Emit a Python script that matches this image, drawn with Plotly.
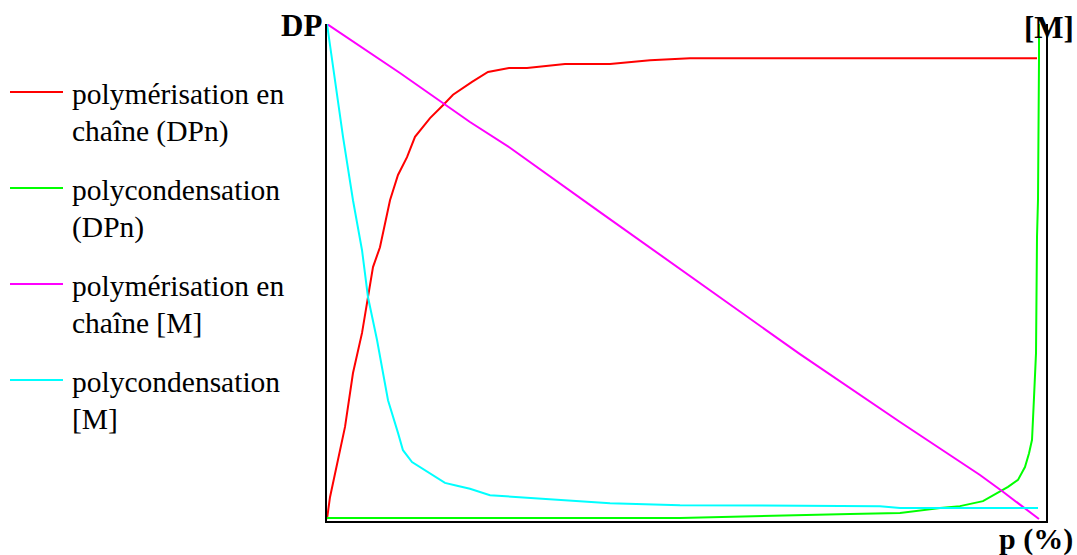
import plotly.graph_objects as go

# ---------------- data (p in %, DP / [M] normalised 0..1) ----------------
red_p = [0, 0.42, 2.53, 3.65, 4.92, 5.76, 6.46, 7.44, 8.85, 9.97, 11.24, 12.36,
         14.47, 16.29, 17.70, 20.37, 22.61, 25.56, 28.09, 33.43, 39.75, 45.37,
         50.98, 99.72]
red_v = [0, 0.044, 0.186, 0.295, 0.376, 0.448, 0.509, 0.549, 0.644, 0.695,
         0.731, 0.772, 0.810, 0.836, 0.857, 0.883, 0.903, 0.911, 0.911, 0.919,
         0.919, 0.927, 0.931, 0.931]

green_p = [0, 49.58, 73.46, 80.48, 86.10, 88.90, 92.13, 94.24, 95.65, 97.05,
           98.03, 98.60, 99.02, 99.30, 99.58, 99.72, 99.86, 100, 100]
green_v = [0.002, 0.002, 0.010, 0.012, 0.022, 0.026, 0.036, 0.053, 0.065,
           0.079, 0.105, 0.133, 0.160, 0.246, 0.335, 0.570, 0.645, 0.927, 1.0]

pink_p = [0, 10.25, 20.08, 25.70, 38.34, 52.39, 66.43, 80.48, 86.10, 91.71,
          94.94, 97.75, 99.16, 100]
pink_v = [1.0, 0.901, 0.802, 0.750, 0.620, 0.477, 0.333, 0.196, 0.143, 0.089,
          0.055, 0.024, 0.008, 0.0]

cyan_p = [0, 2.25, 3.65, 4.92, 5.76, 7.02, 7.87, 8.57, 9.97, 10.67, 11.94,
          14.47, 16.57, 18.26, 20.08, 22.89, 27.11, 32.72, 39.75, 49.58, 66.43,
          77.67, 80.48, 99.86]
cyan_v = [1.0, 0.772, 0.644, 0.543, 0.448, 0.362, 0.295, 0.240, 0.174, 0.139,
          0.115, 0.093, 0.073, 0.067, 0.061, 0.048, 0.044, 0.040, 0.032, 0.028,
          0.026, 0.026, 0.022, 0.022]

series_names = ["polymérisation en chaîne (DPn)", "polycondensation (DPn)",
                "polymérisation en chaîne [M]", "polycondensation [M]"]
legend_lines = [["polymérisation en", "chaîne (DPn)"],
                ["polycondensation", "(DPn)"],
                ["polymérisation en", "chaîne [M]"],
                ["polycondensation", "[M]"]]
colors = ["#FF0000", "#00FF00", "#FF00FF", "#00FFFF"]
y_title_left = "DP"
y_title_right = "[M]"
x_title = "p (%)"

# ---------------- figure ----------------
W, H = 1077, 555
L, R, T, B = 327, 31, 24, 34
plot_w = W - L - R
plot_h = H - T - B
FONT = "Liberation Serif, Times New Roman, serif"


def px(x):
    return (x - L) / plot_w


def py(y):
    return (H - B - y) / plot_h


fig = go.Figure()
for xs, ys, name, col in zip([red_p, green_p, pink_p, cyan_p],
                             [red_v, green_v, pink_v, cyan_v],
                             series_names, colors):
    fig.add_trace(go.Scatter(x=xs, y=ys, mode="lines", name=name,
                             line=dict(color=col, width=2),
                             showlegend=False, hoverinfo="skip"))

annotations = []
shapes = []
entry_y = [92, 188, 284, 380]
for lines, col, yy in zip(legend_lines, colors, entry_y):
    shapes.append(dict(type="line", xref="paper", yref="paper",
                       x0=px(10), x1=px(63), y0=py(yy), y1=py(yy),
                       line=dict(color=col, width=2)))
    for k, txt in enumerate(lines):
        annotations.append(dict(text=txt, xref="paper", yref="paper",
                                x=px(70), y=py(yy + 2 + 37 * k),
                                xanchor="left", yanchor="middle",
                                showarrow=False,
                                font=dict(family=FONT, size=29.5, color="black")))

annotations.append(dict(text="<b>%s</b>" % y_title_left, xref="paper", yref="paper",
                        x=px(324), y=py(25), xanchor="right", yanchor="middle",
                        showarrow=False, font=dict(family=FONT, size=31, color="black")))
annotations.append(dict(text="<b>%s</b>" % y_title_right, xref="paper", yref="paper",
                        x=px(1049), y=py(27), xanchor="center", yanchor="middle",
                        showarrow=False, font=dict(family=FONT, size=31, color="black")))
annotations.append(dict(text="<b>%s</b>" % x_title, xref="paper", yref="paper",
                        x=px(1075), y=py(539), xanchor="right", yanchor="middle",
                        showarrow=False, font=dict(family=FONT, size=30, color="black")))

fig.update_layout(
    width=W, height=H,
    margin=dict(l=L, r=R, t=T, b=B),
    paper_bgcolor="white", plot_bgcolor="white",
    showlegend=False,
    annotations=annotations, shapes=shapes,
    font=dict(family=FONT, color="black"),
)
fig.update_xaxes(range=[0, 100 * plot_w / 712], showgrid=False, zeroline=False,
                 showticklabels=False, ticks="", showline=True,
                 linecolor="black", linewidth=2, mirror=False)
fig.update_yaxes(range=[-2 / 495, 1.0], showgrid=False, zeroline=False,
                 showticklabels=False, ticks="", showline=True,
                 linecolor="black", linewidth=2, mirror=True)

fig.write_html("out.html",
               config={"displayModeBar": False},
               post_script="document.body.style.margin='0';"
                           "document.body.style.overflow='hidden';")
